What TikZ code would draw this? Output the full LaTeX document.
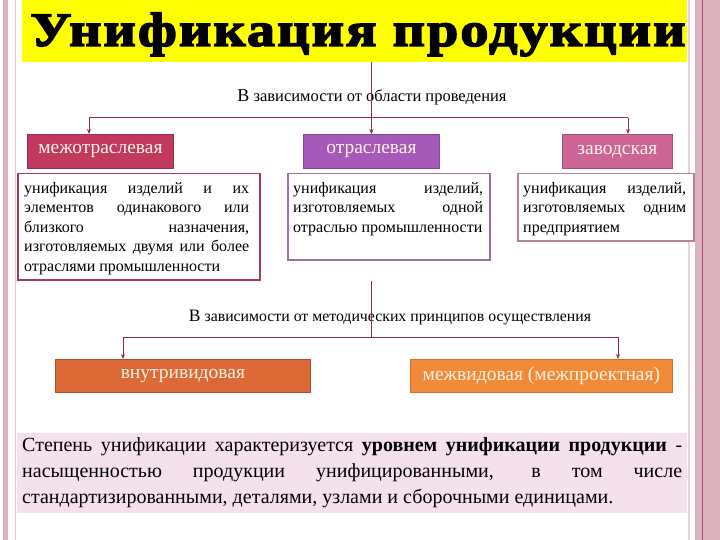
\documentclass[tikz,border=0pt]{standalone}
\usepackage{fontspec}
\usepackage{graphicx}
\setmainfont{Liberation Serif}
\newfontfamily\titlefont[FakeBold=3,LetterSpace=4]{Liberation Serif Bold}
\usetikzlibrary{arrows.meta}
\hyphenpenalty=10000
\exhyphenpenalty=10000
\definecolor{conn}{HTML}{8C2A5A}
\definecolor{titley}{HTML}{FFFF00}
\definecolor{hA}{HTML}{C03A60}
\definecolor{hB}{HTML}{A55AB9}
\definecolor{hC}{HTML}{CD6496}
\definecolor{dA}{HTML}{A23C5C}
\definecolor{dB}{HTML}{9B72A8}
\definecolor{dC}{HTML}{B5809A}
\definecolor{bA}{HTML}{DC6A36}
\definecolor{bAd}{HTML}{B05028}
\definecolor{bB}{HTML}{F28A38}
\definecolor{bBd}{HTML}{D07028}
\definecolor{pinkbg}{HTML}{F4E1EB}
\definecolor{stripe}{HTML}{DDB2BF}
\definecolor{stripedk}{HTML}{A85070}
\definecolor{cream}{HTML}{FFF2E2}
\tikzset{
  line/.style={draw=conn, line width=1pt},
  arr/.style={line, -{Stealth[length=5pt,width=4pt]}},
  hdr/.style={anchor=north west, inner sep=0pt, text=cream, font=\fontsize{19.5}{22}\selectfont, draw=#1!80!black, fill=#1, line width=0.8pt},
  descbox/.style={anchor=north west, draw=#1, line width=1.5pt, fill=white, inner sep=0pt},
  desctext/.style={anchor=north west, inner sep=0pt, align=justify, font=\fontsize{16}{19.5}\selectfont},
}
\begin{document}
\begin{tikzpicture}[x=1pt,y=-1pt]
\useasboundingbox (0,0) rectangle (720,540);
\fill[white] (0,0) rectangle (720,540);
% side stripes
\fill[stripe] (3,0) rectangle (8,540);
\draw[stripe!70!white, line width=0.8pt] (15,0) -- (15,540);
\draw[stripe!60!white, line width=1.5pt] (689,0) -- (689,540);
\fill[stripe] (695,0) rectangle (720,540);
\draw[stripedk, line width=1pt] (702,0) -- (702,540);

% title
\node[anchor=north west, fill=titley, minimum width=665, minimum height=62, inner sep=0pt] (titlebg) at (22,0) {};
\node[anchor=base, inner sep=0pt] (title) at (358,46) {\titlefont\fontsize{48}{48}\selectfont\resizebox{655pt}{\height}{Унификация продукции}};

% first label
\node[inner sep=0pt, font=\fontsize{16.5}{18}\selectfont] (lab1) at (372,97) {{\fontsize{18}{18}\selectfont В} зависимости от области проведения};

% headers
\node[hdr=hA, minimum width=146, minimum height=34] (h1) at (27,134) {межотраслевая};
\node[hdr=hB, minimum width=136, minimum height=34] (h2) at (303,134) {отраслевая};
\node[hdr=hC, minimum width=110, minimum height=34] (h3) at (562,134) {заводская};

% description boxes
\node[descbox=dA, minimum width=242, minimum height=106] (d1) at (17,173) {};
\node[descbox=dB, minimum width=202, minimum height=86] (d2) at (287,173) {};
\node[descbox=dC, minimum width=176, minimum height=67] (d3) at (517,173) {};
\node[desctext, text width=225] (t1) at ([xshift=7pt,yshift=-9pt]d1.north west)
  {унификация изделий и их\linebreak элементов одинакового или\linebreak близкого назначения,\linebreak изготовляемых двумя или более\linebreak отраслями промышленности};
\node[desctext, text width=190] (t2) at ([xshift=6pt,yshift=-9pt]d2.north west)
  {унификация изделий,\linebreak изготовляемых одной\linebreak отраслью промышленности};
\node[desctext, text width=163] (t3) at ([xshift=6pt,yshift=-9pt]d3.north west)
  {унификация изделий,\linebreak изготовляемых одним\linebreak предприятием};

% connectors tier 1
\draw[arr] (h2.north |- titlebg.south) -- (h2.north);
\coordinate (jL) at (89,118);
\coordinate (jR) at (628,118);
\draw[line] (jL) -- (jR);
\draw[arr] (jL) -- (jL |- h1.north);
\draw[arr] (jR) -- (jR |- h3.north);

% second label
\node[inner sep=0pt, font=\fontsize{15.8}{18}\selectfont] (lab2) at (390,317) {{\fontsize{17.5}{18}\selectfont В} зависимости от методических принципов осуществления};

% bottom boxes
\node[hdr=bA, draw=bAd, minimum width=255, minimum height=33] (b1) at (55,359) {внутривидовая};
\node[hdr=bB, draw=bBd, minimum width=262, minimum height=33] (b2) at (410,359) {межвидовая (межпроектная)};

% connectors tier 2
\coordinate (s0) at (371,281);
\coordinate (kL) at (123,337);
\coordinate (kR) at (618,337);
\draw[line] (s0) -- (s0 |- kL);
\draw[line] (kL) -- (kR);
\draw[arr] (kL) -- (kL |- b1.north);
\draw[arr] (kR) -- (kR |- b2.north);

% summary
\node[anchor=north west, fill=pinkbg, minimum width=670, minimum height=80, inner xsep=5pt, inner ysep=0pt, text width=660, align=justify, font=\fontsize{20}{26}\selectfont] (sum) at (17,433)
  {Степень унификации характеризуется \textbf{уровнем унификации продукции} -\linebreak насыщенностью продукции унифицированными, в том числе\linebreak стандартизированными, деталями, узлами и сборочными единицами.};
\end{tikzpicture}
\end{document}
